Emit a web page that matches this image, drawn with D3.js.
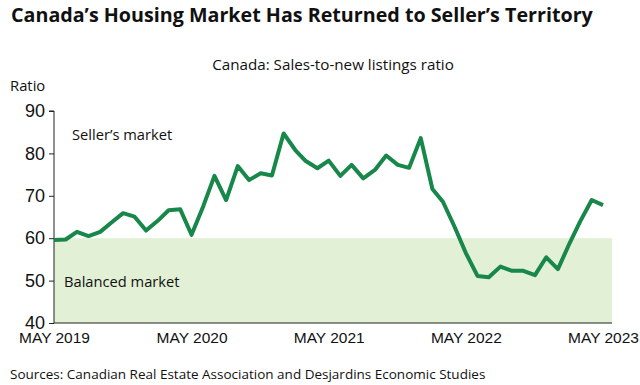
<!DOCTYPE html>
<html>
<head>
<meta charset="utf-8">
<script src="https://cdn.jsdelivr.net/npm/d3@7.9.0/dist/d3.min.js"></script>
<style>
  body { margin: 0; background: #fff; }
  svg { display: block; font-family: "Open Sans", "Noto Sans", sans-serif; }
</style>
</head>
<body>
<div id="chart"></div>
<script>
// monthly sales-to-new listings ratio, May 2019 .. May 2023
const startMonth = new Date(2019, 4, 1);
const ratio = [
  59.6, 59.7, 61.5, 60.5, 61.5, 63.7, 65.9, 65.1, 61.8, 64.1, 66.6, 66.8,
  60.8, 67.5, 74.7, 69.0, 77.0, 73.7, 75.3, 74.8, 84.7, 80.8, 78.2, 76.5,
  78.3, 74.7, 77.3, 74.1, 76.1, 79.5, 77.3, 76.6, 83.6, 71.6, 68.6, 62.7,
  56.5, 51.1, 50.8, 53.3, 52.3, 52.3, 51.3, 55.5, 52.7, 58.8, 63.9, 69.0,
  67.8
];
const yTicks = [40, 50, 60, 70, 80, 90];
const xTickYears = [2019, 2020, 2021, 2022, 2023];
const balancedRange = [40, 60];

const data = ratio.map((v, i) => ({
  date: new Date(startMonth.getFullYear(), startMonth.getMonth() + i, 1),
  value: v
}));

const width = 640, height = 385;
const plot = { left: 54, right: 603, axisEnd: 612, top: 111, bottom: 323 };

const svg = d3.select('#chart').append('svg')
  .attr('width', width)
  .attr('height', height);

const x = d3.scaleTime()
  .domain([data[0].date, data[data.length - 1].date])
  .range([plot.left, plot.right]);

const y = d3.scaleLinear()
  .domain([40, 90])
  .range([plot.bottom, plot.top]);

// balanced market band
svg.append('rect')
  .attr('x', plot.left)
  .attr('y', y(balancedRange[1]))
  .attr('width', plot.axisEnd - plot.left)
  .attr('height', y(balancedRange[0]) - y(balancedRange[1]))
  .attr('fill', '#e2f0d5');

// y axis
const yAxis = svg.append('g')
  .attr('transform', `translate(${plot.left},0)`)
  .call(d3.axisLeft(y).tickValues(yTicks).tickSize(5).tickPadding(4));
yAxis.select('.domain').attr('stroke', '#222').attr('d', `M-5,${plot.top}H0V${plot.bottom}`);
yAxis.selectAll('.tick line').attr('stroke', '#222');
yAxis.selectAll('.tick text')
  .attr('font-size', 18)
  .attr('fill', '#111');

// x axis
const xAxis = svg.append('g')
  .attr('transform', `translate(0,${plot.bottom})`)
  .call(d3.axisBottom(x)
    .tickValues(xTickYears.map(yr => new Date(yr, 4, 1)))
    .tickSize(0)
    .tickPadding(9)
    .tickFormat(d => 'MAY ' + d.getFullYear()));
xAxis.select('.domain').attr('stroke', '#222').attr('d', `M${plot.left},0H${plot.axisEnd}`);
xAxis.selectAll('.tick text')
  .attr('font-size', 15.5)
  .attr('fill', '#111');

// line
svg.append('path')
  .datum(data)
  .attr('fill', 'none')
  .attr('stroke', '#17874a')
  .attr('stroke-width', 4)
  .attr('stroke-linejoin', 'round')
  .attr('d', d3.line().x(d => x(d.date)).y(d => y(d.value)));

// text
svg.append('text')
  .attr('x', 11).attr('y', 22)
  .attr('font-size', 19.7).attr('font-weight', 700).attr('fill', '#111')
  .text('Canada\u2019s Housing Market Has Returned to Seller\u2019s Territory');

svg.append('text')
  .attr('x', 333).attr('y', 70)
  .attr('text-anchor', 'middle')
  .attr('font-size', 15.2).attr('fill', '#111')
  .text('Canada: Sales-to-new listings ratio');

svg.append('text')
  .attr('x', 10).attr('y', 91)
  .attr('font-size', 14.8).attr('fill', '#111')
  .text('Ratio');

svg.append('text')
  .attr('x', 72).attr('y', 140)
  .attr('font-size', 14.7).attr('fill', '#111')
  .text('Seller\u2019s market');

svg.append('text')
  .attr('x', 64).attr('y', 287)
  .attr('font-size', 14.7).attr('fill', '#111')
  .text('Balanced market');

svg.append('text')
  .attr('x', 10).attr('y', 379)
  .attr('font-size', 13.5).attr('fill', '#111')
  .text('Sources: Canadian Real Estate Association and Desjardins Economic Studies');
</script>
</body>
</html>
